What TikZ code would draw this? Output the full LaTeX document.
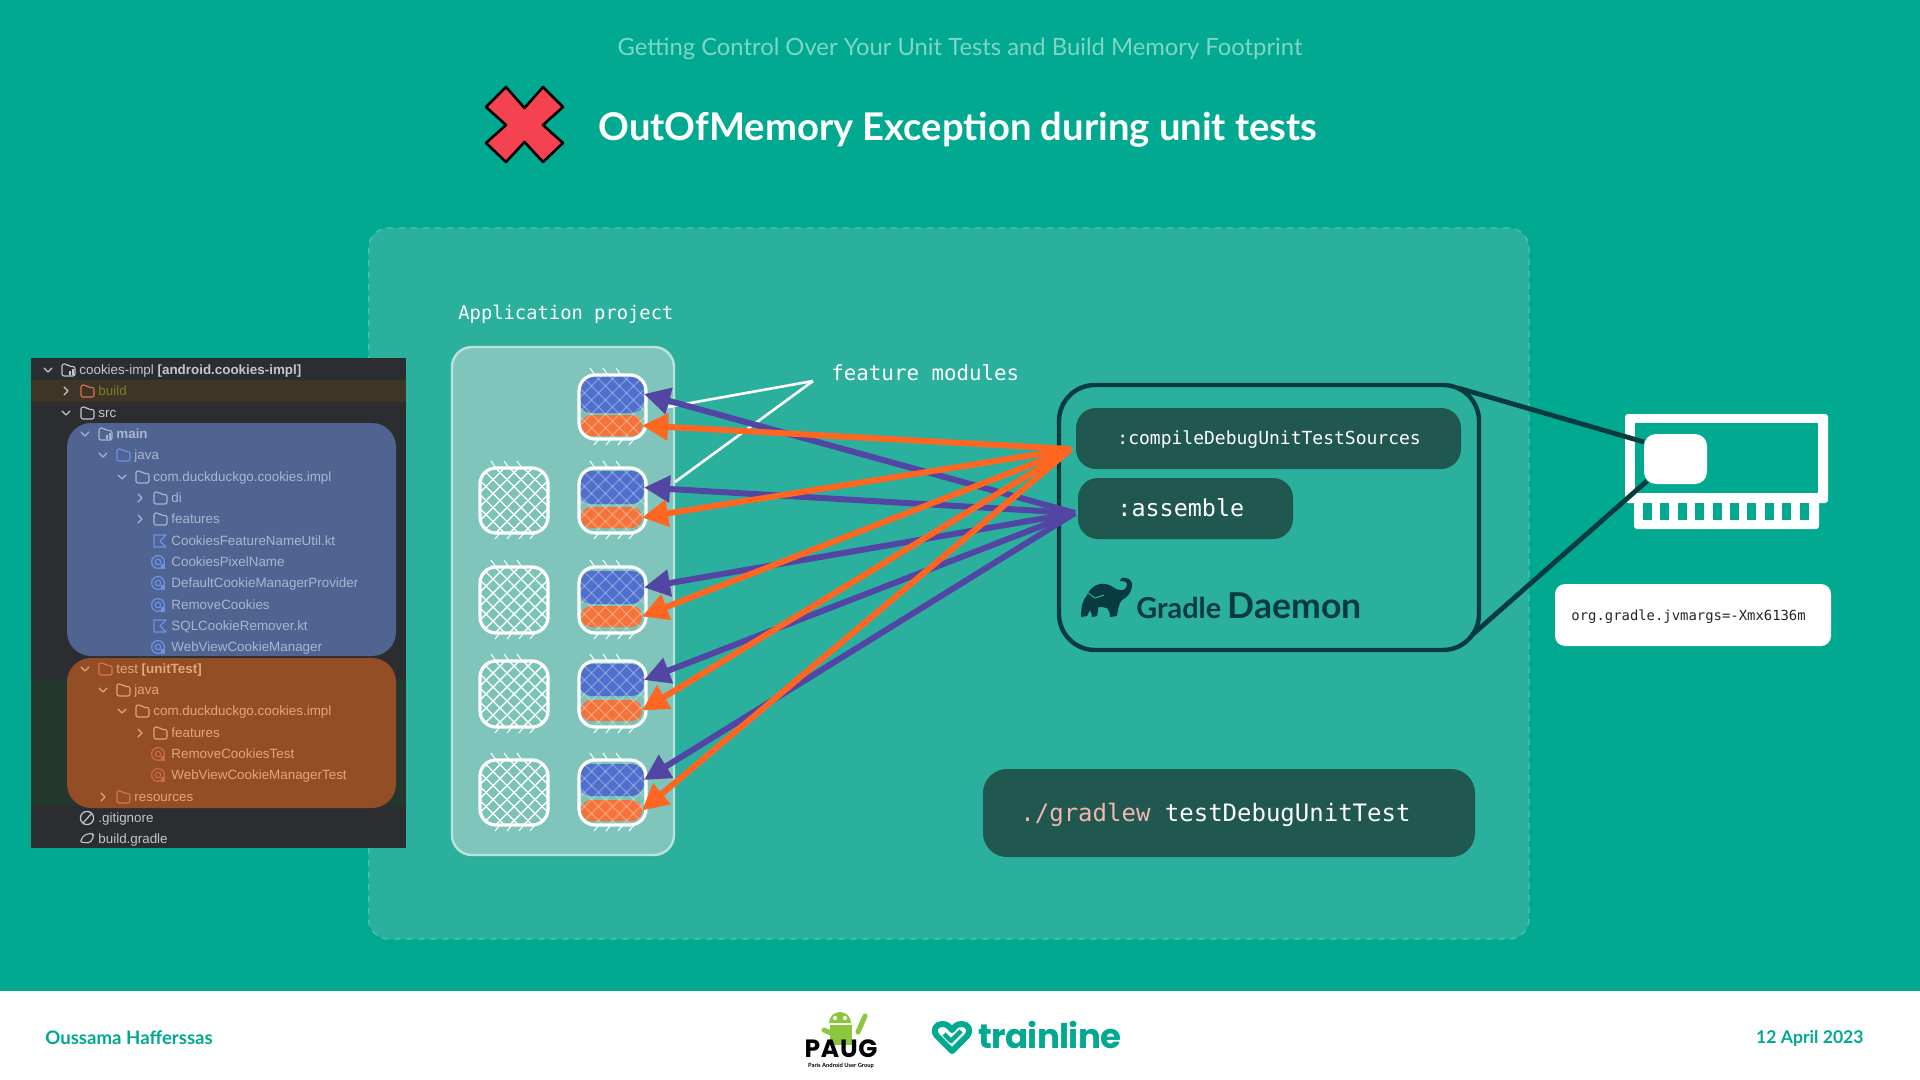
\documentclass[tikz,border=0pt]{standalone}
\usepackage{fontspec}
\setmainfont{Lato}
\newfontfamily\monof{DejaVu Sans Mono}
\newfontfamily\treef{Liberation Sans}
\newfontfamily\logof[LetterSpace=-2]{Poppins}
\newfontfamily\paugf[LetterSpace=3]{Poppins}
\usetikzlibrary{arrows.meta}
\definecolor{bgteal}{HTML}{00A98F}
\definecolor{panelteal}{HTML}{2BB09E}
\definecolor{dashteal}{HTML}{4CC6B2}
\definecolor{subt}{HTML}{7FD6C6}
\definecolor{appfill}{HTML}{80C5BB}
\definecolor{appline}{HTML}{B9E3DC}
\definecolor{tilefill}{HTML}{7CC3B7}
\definecolor{darkbox}{HTML}{20574F}
\definecolor{darkline}{HTML}{073B3F}
\definecolor{modblue}{HTML}{4F6FCC}
\definecolor{modorange}{HTML}{F4733A}
\definecolor{arrpurple}{HTML}{5345A4}
\definecolor{arrorange}{HTML}{FF6622}
\definecolor{redx}{HTML}{F44250}
\definecolor{treebg}{HTML}{2B2D30}
\definecolor{buildband}{HTML}{3E3527}
\definecolor{testband}{HTML}{24372F}
\definecolor{treeblue}{HTML}{4F6491}
\definecolor{treeorange}{HTML}{944E25}
\definecolor{txtgrey}{HTML}{C4C6CC}
\definecolor{txtblue}{HTML}{A8B6D2}
\definecolor{txtorange}{HTML}{E3A678}
\definecolor{txtolive}{HTML}{7F7C22}
\definecolor{icoblue}{HTML}{6E92E6}
\definecolor{icoorange}{HTML}{D9764E}
\definecolor{icored}{HTML}{C9694F}
\definecolor{pinkish}{HTML}{F0B8B0}
\definecolor{andgreen}{HTML}{8CC63F}
\newcommand{\fs}[1]{\fontsize{#1}{#1}\selectfont}
% box node from corners (pixels)
\newcommand{\bx}[7][]{%
  \pgfmathsetlengthmacro\bw{(#5-#3)*0.5}%
  \pgfmathsetlengthmacro\bh{(#6-#4)*0.5}%
  \node[#1,minimum width=\bw,minimum height=\bh,inner sep=0pt,outer sep=0pt] (#2) at ({(#3+#5)/2},{(#4+#6)/2}) {#7};}
% hatching
\newcommand{\hatch}[6]{%
  \begin{scope}
  \clip[rounded corners=8pt] (#3,#4) rectangle (#5,#6);
  \foreach \k in {-98,-84,...,98} {
    \draw[#1,#2] ({(#3+#5)/2+\k-50},{(#4+#6)/2-50}) -- ({(#3+#5)/2+\k+50},{(#4+#6)/2+50});
    \draw[#1,#2] ({(#3+#5)/2+\k+50},{(#4+#6)/2-50}) -- ({(#3+#5)/2+\k-50},{(#4+#6)/2+50});
  }
  \end{scope}
  \foreach \k in {16,29,42} {
    \draw[white,line width=.5pt] ({#3+\k},{#4}) -- ({#3+\k-5},{#4-7});
  }
  \foreach \k in {20,32,44,55} {
    \draw[white,line width=.5pt] ({#3+\k},{#6}) -- ({#3+\k-5},{#6+6});
  }}
% left tile
\newcommand{\ltile}[5]{%
  \bx[fill=tilefill,rounded corners=8pt]{#1}{#2}{#3}{#4}{#5}{}
  \hatch{white}{line width=.7pt}{#2}{#3}{#4}{#5}
  \draw[white,line width=1.6pt,rounded corners=8pt] (#2,#3) rectangle (#4,#5);}
% right tile: index, y top, y bottom, blue y1,y2, orange y1,y2
\newcommand{\rtile}[7]{%
  \bx[fill=tilefill,rounded corners=8pt]{t#1}{579}{#2}{646}{#3}{}
  \bx[fill=modblue,rounded corners=6pt]{b#1}{579}{#4}{644}{#5}{}
  \bx[fill=modorange,rounded corners=5pt]{o#1}{581}{#6}{642}{#7}{}
  \hatch{white}{line width=.6pt,opacity=.28}{579}{#2}{646}{#3}
  \draw[white,line width=1.6pt,rounded corners=8pt] (579,#2) rectangle (646,#3);}
% tree icons
\newcommand{\chd}[3]{\draw[#3,line width=.55pt,line cap=round,line join=round] ({#1-4},{#2-2}) -- (#1,{#2+2}) -- ({#1+4},{#2-2});}
\newcommand{\chr}[3]{\draw[#3,line width=.55pt,line cap=round,line join=round] ({#1-2},{#2-4}) -- ({#1+2},#2) -- ({#1-2},{#2+4});}
\newcommand{\fold}[3]{\draw[#3,line width=.55pt,line join=round,rounded corners=1pt] ({#1-6},{#2+6}) -- ({#1-6},{#2-6}) -- ({#1-1},{#2-6}) -- ({#1+1},{#2-3.5}) -- ({#1+7},{#2-3.5}) -- ({#1+7},{#2+6}) -- cycle;}
\newcommand{\modico}[3]{\fold{#1}{#2}{#3}\fill[#3] ({#1+1},{#2+5}) rectangle ({#1+2.5},{#2+1});\fill[#3] ({#1+4},{#2+5}) rectangle ({#1+5.5},{#2-1});}
\newcommand{\cico}[3]{\draw[#3,line width=.6pt] (#1,#2) circle (3.2pt);\draw[#3,line width=.6pt] (#1,#2) circle (1.4pt);\fill[#3] ({#1+3},{#2+2}) rectangle ({#1+7},{#2+7});}
\newcommand{\kico}[3]{\draw[#3,line width=.6pt,line join=round] ({#1-6},{#2-6}) -- ({#1+6},{#2-6}) -- (#1,#2) -- ({#1+6},{#2+6}) -- ({#1-6},{#2+6}) -- cycle;}
\newcommand{\rowt}[5]{\node[anchor=west,inner sep=0pt,text=#3] (#4) at (#1,{#2+1}) {\treef\fs{6.7}\vphantom{Apg}#5};}
\begin{document}
\begin{tikzpicture}[x=0.5pt,y=-0.5pt,
  monotext/.style={anchor=west,inner sep=0pt,font=\monof},
  purplearrow/.style={draw=arrpurple,line width=3pt,-{Triangle[length=13pt,width=13pt]}},
  orangearrow/.style={draw=arrorange,line width=3pt,-{Triangle[length=13pt,width=13pt]}},
  pointer/.style={draw=white,line width=1.3pt},
  ramline/.style={draw=darkline,line width=2.4pt},
  darkpill/.style={fill=darkbox,rounded corners=10pt}]
\useasboundingbox (0,0) rectangle (1920,1080);
\fill[bgteal] (0,0) rectangle (1920,1080);
% footer
\fill[white] (0,991) rectangle (1920,1080);
% headings
\node[anchor=center,text=subt,inner sep=0pt,font=\fs{11.9}] (subtitle) at (960,49) {Getting Control Over Your Unit Tests and Build Memory Footprint};
\node[anchor=west,text=white,inner sep=0pt,font=\bfseries\fs{19.1}] (title) at (598,130) {OutOfMemory Exception during unit tests};
\draw[black,line width=1.3pt,fill=redx,line join=round] (506,87) -- (524.5,108) -- (543,87) -- (563,107) -- (543,125) -- (563,143) -- (543,162) -- (524.5,142) -- (506,162) -- (486,143) -- (506,125) -- (486,107) -- cycle;
% big panel
\bx[fill=panelteal,draw=dashteal,dashed,line width=.6pt,rounded corners=10pt]{panel}{368.5}{228}{1529}{939}{}
% tree
\bx[fill=treebg]{tree}{31}{358}{406}{848}{}
\fill[buildband] (31,380) rectangle (406,402);
\fill[testband] (31,680) rectangle (406,806);
\bx[fill=treeblue,rounded corners=12pt]{mainpanel}{67}{423}{396}{656}{}
\bx[fill=treeorange,rounded corners=12pt]{testpanel}{67}{658}{396}{808}{}
\chd{48}{370}{txtgrey}\modico{68}{370}{txtgrey}
\rowt{79}{370}{txtgrey}{r0}{cookies-impl \textbf{[android.cookies-impl]}}
\chr{66}{391}{txtgrey}\fold{87}{391}{icoorange}
\rowt{98}{391}{txtolive}{r1}{build}
\chd{66}{413}{txtgrey}\fold{87}{413}{txtgrey}
\rowt{98}{413}{txtgrey}{r2}{src}
\chd{85}{434}{txtblue}\modico{105}{434}{txtblue}
\rowt{116}{434}{txtblue}{r3}{\textbf{main}}
\chd{103}{455}{txtblue}\fold{123}{455}{icoblue}
\rowt{134}{455}{txtblue}{r4}{java}
\chd{122}{477}{txtblue}\fold{142}{477}{txtblue}
\rowt{153}{477}{txtblue}{r5}{com.duckduckgo.cookies.impl}
\chr{140}{498}{txtblue}\fold{160}{498}{txtblue}
\rowt{171}{498}{txtblue}{r6}{di}
\chr{140}{519}{txtblue}\fold{160}{519}{txtblue}
\rowt{171}{519}{txtblue}{r7}{features}
\kico{160}{541}{icoblue}
\rowt{171}{541}{txtblue}{r8}{CookiesFeatureNameUtil.kt}
\cico{158}{562}{icoblue}
\rowt{171}{562}{txtblue}{r9}{CookiesPixelName}
\cico{158}{583}{icoblue}
\rowt{171}{583}{txtblue}{r10}{DefaultCookieManagerProvider}
\cico{158}{605}{icoblue}
\rowt{171}{605}{txtblue}{r11}{RemoveCookies}
\kico{160}{626}{icoblue}
\rowt{171}{626}{txtblue}{r12}{SQLCookieRemover.kt}
\cico{158}{647}{icoblue}
\rowt{171}{647}{txtblue}{r13}{WebViewCookieManager}
\chd{85}{669}{txtorange}\fold{105}{669}{icoorange}
\rowt{116}{669}{txtorange}{r14}{test \textbf{[unitTest]}}
\chd{103}{690}{txtorange}\fold{123}{690}{txtorange}
\rowt{134}{690}{txtorange}{r15}{java}
\chd{122}{711}{txtorange}\fold{142}{711}{txtorange}
\rowt{153}{711}{txtorange}{r16}{com.duckduckgo.cookies.impl}
\chr{140}{733}{txtorange}\fold{160}{733}{txtorange}
\rowt{171}{733}{txtorange}{r17}{features}
\cico{158}{754}{icored}
\rowt{171}{754}{txtorange}{r18}{RemoveCookiesTest}
\cico{158}{775}{icored}
\rowt{171}{775}{txtorange}{r19}{WebViewCookieManagerTest}
\chr{103}{797}{txtorange}\fold{123}{797}{icoorange}
\rowt{134}{797}{txtorange}{r20}{resources}
\draw[txtgrey,line width=.6pt] (87,818) circle (3.3pt);
\draw[txtgrey,line width=.6pt] (83,823) -- (92,813);
\rowt{98}{818}{txtgrey}{r21}{.gitignore}
\draw[txtgrey,line width=.55pt,rounded corners=1pt] (80,842) -- (84,835) -- (92,833) -- (94,836) -- (90,843) -- cycle;
\rowt{98}{839}{txtgrey}{r22}{build.gradle}
% application box
\node[monotext,text=white,font=\monof\fs{9.4}] (apptitle) at (458,314) {Application project};
\bx[fill=appfill,draw=appline,line width=1.2pt,rounded corners=10pt]{app}{452}{347}{674}{855}{}
\ltile{l2}{480}{468}{548}{533}
\ltile{l3}{480}{567}{548}{633}
\ltile{l4}{480}{661}{548}{727}
\ltile{l5}{480}{760}{548}{825}
\rtile{1}{375}{439}{375}{413}{415}{436}
\rtile{2}{468}{533}{471}{504}{507}{528}
\rtile{3}{567}{633}{571}{604}{606}{627}
\rtile{4}{661}{727}{664}{696}{700}{721}
\rtile{5}{760}{825}{764}{796}{800}{821}
% gradle group
\node[monotext,text=white,font=\monof\fs{10.4}] (fm) at (831,373) {feature modules};
\coordinate (fmapex) at (813,381);
\coordinate (fmone) at (668,407);
\coordinate (fmtwo) at (675,482);
\draw[pointer] (fmapex) -- (fmone);
\draw[pointer] (fmapex) -- (fmtwo);
\bx[draw=darkline,line width=2.2pt,rounded corners=18pt]{gradle}{1059}{385}{1479}{650}{}
\bx[darkpill]{compile}{1076}{408}{1461}{469}{}
\node[monotext,text=white,font=\monof\fs{9}] (compilet) at (1117,440) {:compileDebugUnitTestSources};
\bx[darkpill]{assemble}{1078}{478}{1293}{539}{}
\node[monotext,text=white,font=\monof\fs{11.7}] (assemblet) at (1117,508) {:assemble};
% elephant
\fill[darkline] (1081,617) .. controls (1081,606) and (1083,600) .. (1087,595) .. controls (1090,589) and (1094,585) .. (1100,584) .. controls (1105,583) and (1110,585) .. (1113,587) .. controls (1115,589) and (1118,590) .. (1120,590) .. controls (1124,591) and (1127,588) .. (1127,584) .. controls (1127,582) and (1124,581) .. (1120,581) .. controls (1120,578) and (1124,577) .. (1126,578) .. controls (1131,579) and (1133,583) .. (1132,587) .. controls (1131,594) and (1126,598) .. (1122,600) .. controls (1119,603) and (1118,609) .. (1117,616) -- (1110,617) .. controls (1110,613) and (1109,610) .. (1107,608) .. controls (1104,607) and (1101,607) .. (1098,607) .. controls (1098,611) and (1098,614) .. (1097,616) -- (1092,617) .. controls (1092,614) and (1091,612) .. (1090,610) .. controls (1089,612) and (1088,614) .. (1087,616) -- cycle;
\draw[panelteal,line width=.5pt] (1088,593) -- (1095,598) -- (1104,595);
\node[anchor=base west,inner sep=0pt,text=darkline,font=\bfseries\fs{14.4}] (gradlet) at (1136,618) {Gradle};
\node[anchor=base west,inner sep=0pt,text=darkline,font=\bfseries\fs{17.8}] (daemont) at (1227,618) {Daemon};
% gradlew box
\bx[fill=darkbox,rounded corners=12pt]{cmd}{983}{769}{1475}{857}{}
\node[monotext,text=white,font=\monof\fs{12}] (cmdt) at (1020,815) {{\color{pinkish}./gradlew} testDebugUnitTest};
% RAM
\fill[white,rounded corners=1.5pt] (1634,500) rectangle (1819,529);
\fill[white,rounded corners=1.5pt] (1625,414) rectangle (1828,503);
\bx[fill=bgteal]{ram}{1635}{423}{1818}{493}{}
\foreach \p in {0,...,9} { \fill[bgteal] ({1643+\p*17.4},503) rectangle ({1643+\p*17.4+9},520); }
\coordinate (gradletop) at (1458,388);
\coordinate (gradlebot) at (1472,635);
\bx[fill=white,rounded corners=6pt]{chip}{1644}{434}{1707}{484}{}
\draw[ramline] (gradletop) -- ([yshift=-4pt]chip.north west);
\draw[ramline] (gradlebot) -- ([xshift=1.5pt,yshift=1.5pt]chip.south west);
\bx[fill=white,rounded corners=5pt]{jvm}{1555}{584}{1831}{646}{}
\node[monotext,text=black!85,font=\monof\fs{6.95}] (jvmt) at (1571,617) {org.gradle.jvmargs=-Xmx6136m};
% arrows
\coordinate (psrc) at (1075,513);
\coordinate (osrc) at (1071,449);
\foreach \n in {1,...,5} { \draw[purplearrow] (psrc) -- (b\n.east); }
\foreach \n in {1,...,5} { \draw[orangearrow] (osrc) -- (o\n.east); }
% footer text
\node[anchor=west,inner sep=0pt,text=bgteal,font=\bfseries\fs{9.3}] (author) at (45,1038) {Oussama Hafferssas};
\node[anchor=east,inner sep=0pt,text=bgteal,font=\bfseries\fs{8.8}] (date) at (1864,1038) {12 April 2023};
% PAUG logo
\fill[andgreen] (829,1023) arc (180:360:11 and 11) -- cycle;
\fill[andgreen] (830,1025) rectangle (852,1045);
\draw[andgreen,line width=2.5pt,line cap=round] (824,1030) -- (840,1037);
\draw[andgreen,line width=2.5pt,line cap=round] (858,1032) -- (865,1016);
\fill[white] (835,1018) circle (1pt) (845,1018) circle (1pt);
\node[anchor=base,inner sep=0pt,text=black,font=\paugf\bfseries\fs{12.5}] (paug) at (841,1057) {PAUG};
\node[anchor=base,inner sep=0pt,text=black,font=\bfseries\fs{2.9}] (paugsub) at (841,1067) {Paris Android User Group};
% trainline logo
\draw[bgteal,line width=3pt,line join=round] (952,1051) -- (937,1036) .. controls (932,1030) and (936,1024) .. (942,1024) .. controls (947,1024) and (949,1026) .. (952,1030) .. controls (955,1026) and (957,1024) .. (962,1024) .. controls (968,1024) and (972,1030) .. (967,1036) -- cycle;
\draw[bgteal,line width=2.2pt,line join=round] (944,1034) -- (951,1041) -- (961,1031);
\node[anchor=base west,inner sep=0pt,text=bgteal,font=\logof\bfseries\fs{17}] (trainline) at (978,1048) {trainline};
\end{tikzpicture}
\end{document}
